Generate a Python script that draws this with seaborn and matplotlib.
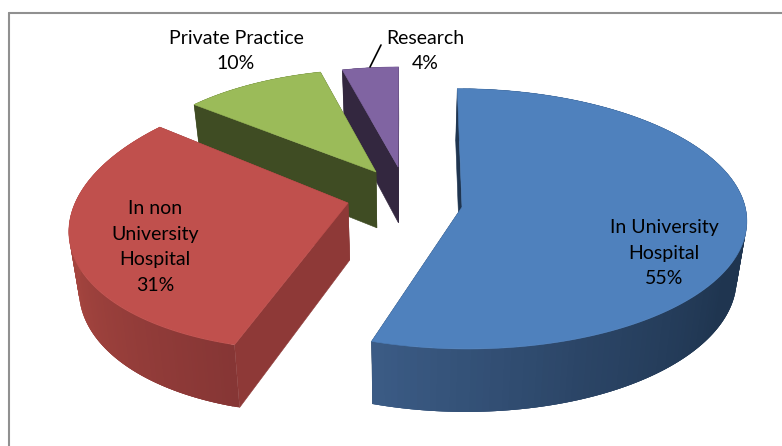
import numpy as np
import seaborn as sns
import matplotlib
matplotlib.use("Agg")
import matplotlib.pyplot as plt

names = ["In University\nHospital", "In non\nUniversity\nHospital", "Private Practice", "Research"]
values = [55, 31, 10, 4]

top_colors = ["#4f81bd", "#c0504d", "#9bbb59", "#8064a2"]
cut_colors = ["#1f3550", "#8e3937", "#3f4c23", "#33273f"]
rim_colors = [["#1f3550", "#1f3550", "#1f3550", "#1f3550", "#2b4566", "#3b5b85"],
              ["#863635", "#a5453f", "#a5453f"],
              ["#3f4c23", "#3f4c23"],
              ["#33273f", "#33273f"]]

# camera of the fake 3d view (in pixels of the 782x446 figure)
x0, y0 = 405, 201
a, b, k = 282, 128, 0.09
depth = 57
lean = 0.97

# exploded slice centres on the pie plane, and how each slice is stretched
offset_x = [0.2013, -0.2018, -0.105, -0.025]
offset_y = [-0.047, -0.0156, 0.2313, 0.272]
stretch = [[[1, 0], [0, 1]],
           [[0.97, 0.05], [0.05, 1.04]],
           [[0.905, 0], [0, 0.905]],
           [[0.884, 0], [0, 0.884]]]

draw_order = [3, 2, 0, 1]

label_x = [664, 155, 236, 425]
label_y = [253, 247, 51, 51]


def Project(X, Y):
    w = 1 + k * Y
    return x0 + a * X / w, y0 - b * Y / w


def Lower(x, y, Y):
    w = 1 + k * Y
    return x0 + (x - x0) * lean, y + depth / w


def SlicePoints(i, angles):
    m = stretch[i]
    dx = np.sin(angles)
    dy = np.cos(angles)
    X = offset_x[i] + m[0][0] * dx + m[0][1] * dy
    Y = offset_y[i] + m[1][0] * dx + m[1][1] * dy
    return X, Y


def DrawFace(ax, xs, ys, color, lw=0.4):
    ax.fill(xs, ys, color=color, lw=lw, zorder=2)


def DrawSlice(ax, i, start, end):
    angles = np.linspace(start, end, 160)
    X, Y = SlicePoints(i, angles)
    x, y = Project(X, Y)
    xb, yb = Lower(x, y, Y)

    ax_x, ax_y = Project(np.array(offset_x[i]), np.array(offset_y[i]))
    bx, by = Lower(ax_x, ax_y, np.array(offset_y[i]))

    # the two cut faces
    DrawFace(ax, [ax_x, x[-1], xb[-1], bx], [ax_y, y[-1], yb[-1], by], cut_colors[i])
    DrawFace(ax, [ax_x, x[0], xb[0], bx], [ax_y, y[0], yb[0], by], cut_colors[i])

    # rim in small steps so the shade can change along it
    # every step runs into the next one, this hides the seams
    shades = sns.blend_palette(rim_colors[i], len(angles) - 1)
    for n in range(len(angles) - 1):
        m = min(n + 3, len(angles) - 1)
        DrawFace(ax, np.r_[x[n:m + 1], xb[n:m + 1][::-1]],
                 np.r_[y[n:m + 1], yb[n:m + 1][::-1]], shades[n], lw=0)

    # top of the slice
    DrawFace(ax, np.r_[ax_x, x], np.r_[ax_y, y], top_colors[i])


sns.set_theme(style="white")
plt.rcParams["font.family"] = ["Lato", "DejaVu Sans"]

fig, ax = plt.subplots(figsize=(7.82, 4.46), dpi=100)
fig.subplots_adjust(left=0, right=1, bottom=0, top=1)
ax.set_xlim(0, 782)
ax.set_ylim(446, 0)
ax.axis("off")

# chart frame
ax.plot([8.5, 8.5], [446, 13], color="#909090", lw=1.5)
ax.plot([8.5, 782], [13, 13], color="#909090", lw=1.5)

edges = np.r_[0, np.cumsum(values)] / sum(values) * 2 * np.pi
for i in draw_order:
    DrawSlice(ax, i, edges[i], edges[i + 1])

for i in range(len(values)):
    ax.text(label_x[i], label_y[i], f"{names[i]}\n{values[i]}%", ha="center", va="center",
            fontsize=14, color="black", linespacing=1.6, zorder=5)

# leader line of the Research label
ax.annotate("", xy=(370, 67), xytext=(381, 45),
            arrowprops=dict(arrowstyle="-", color="black", lw=1.2, shrinkA=0, shrinkB=0), zorder=5)

plt.savefig("out.png", dpi=100)
